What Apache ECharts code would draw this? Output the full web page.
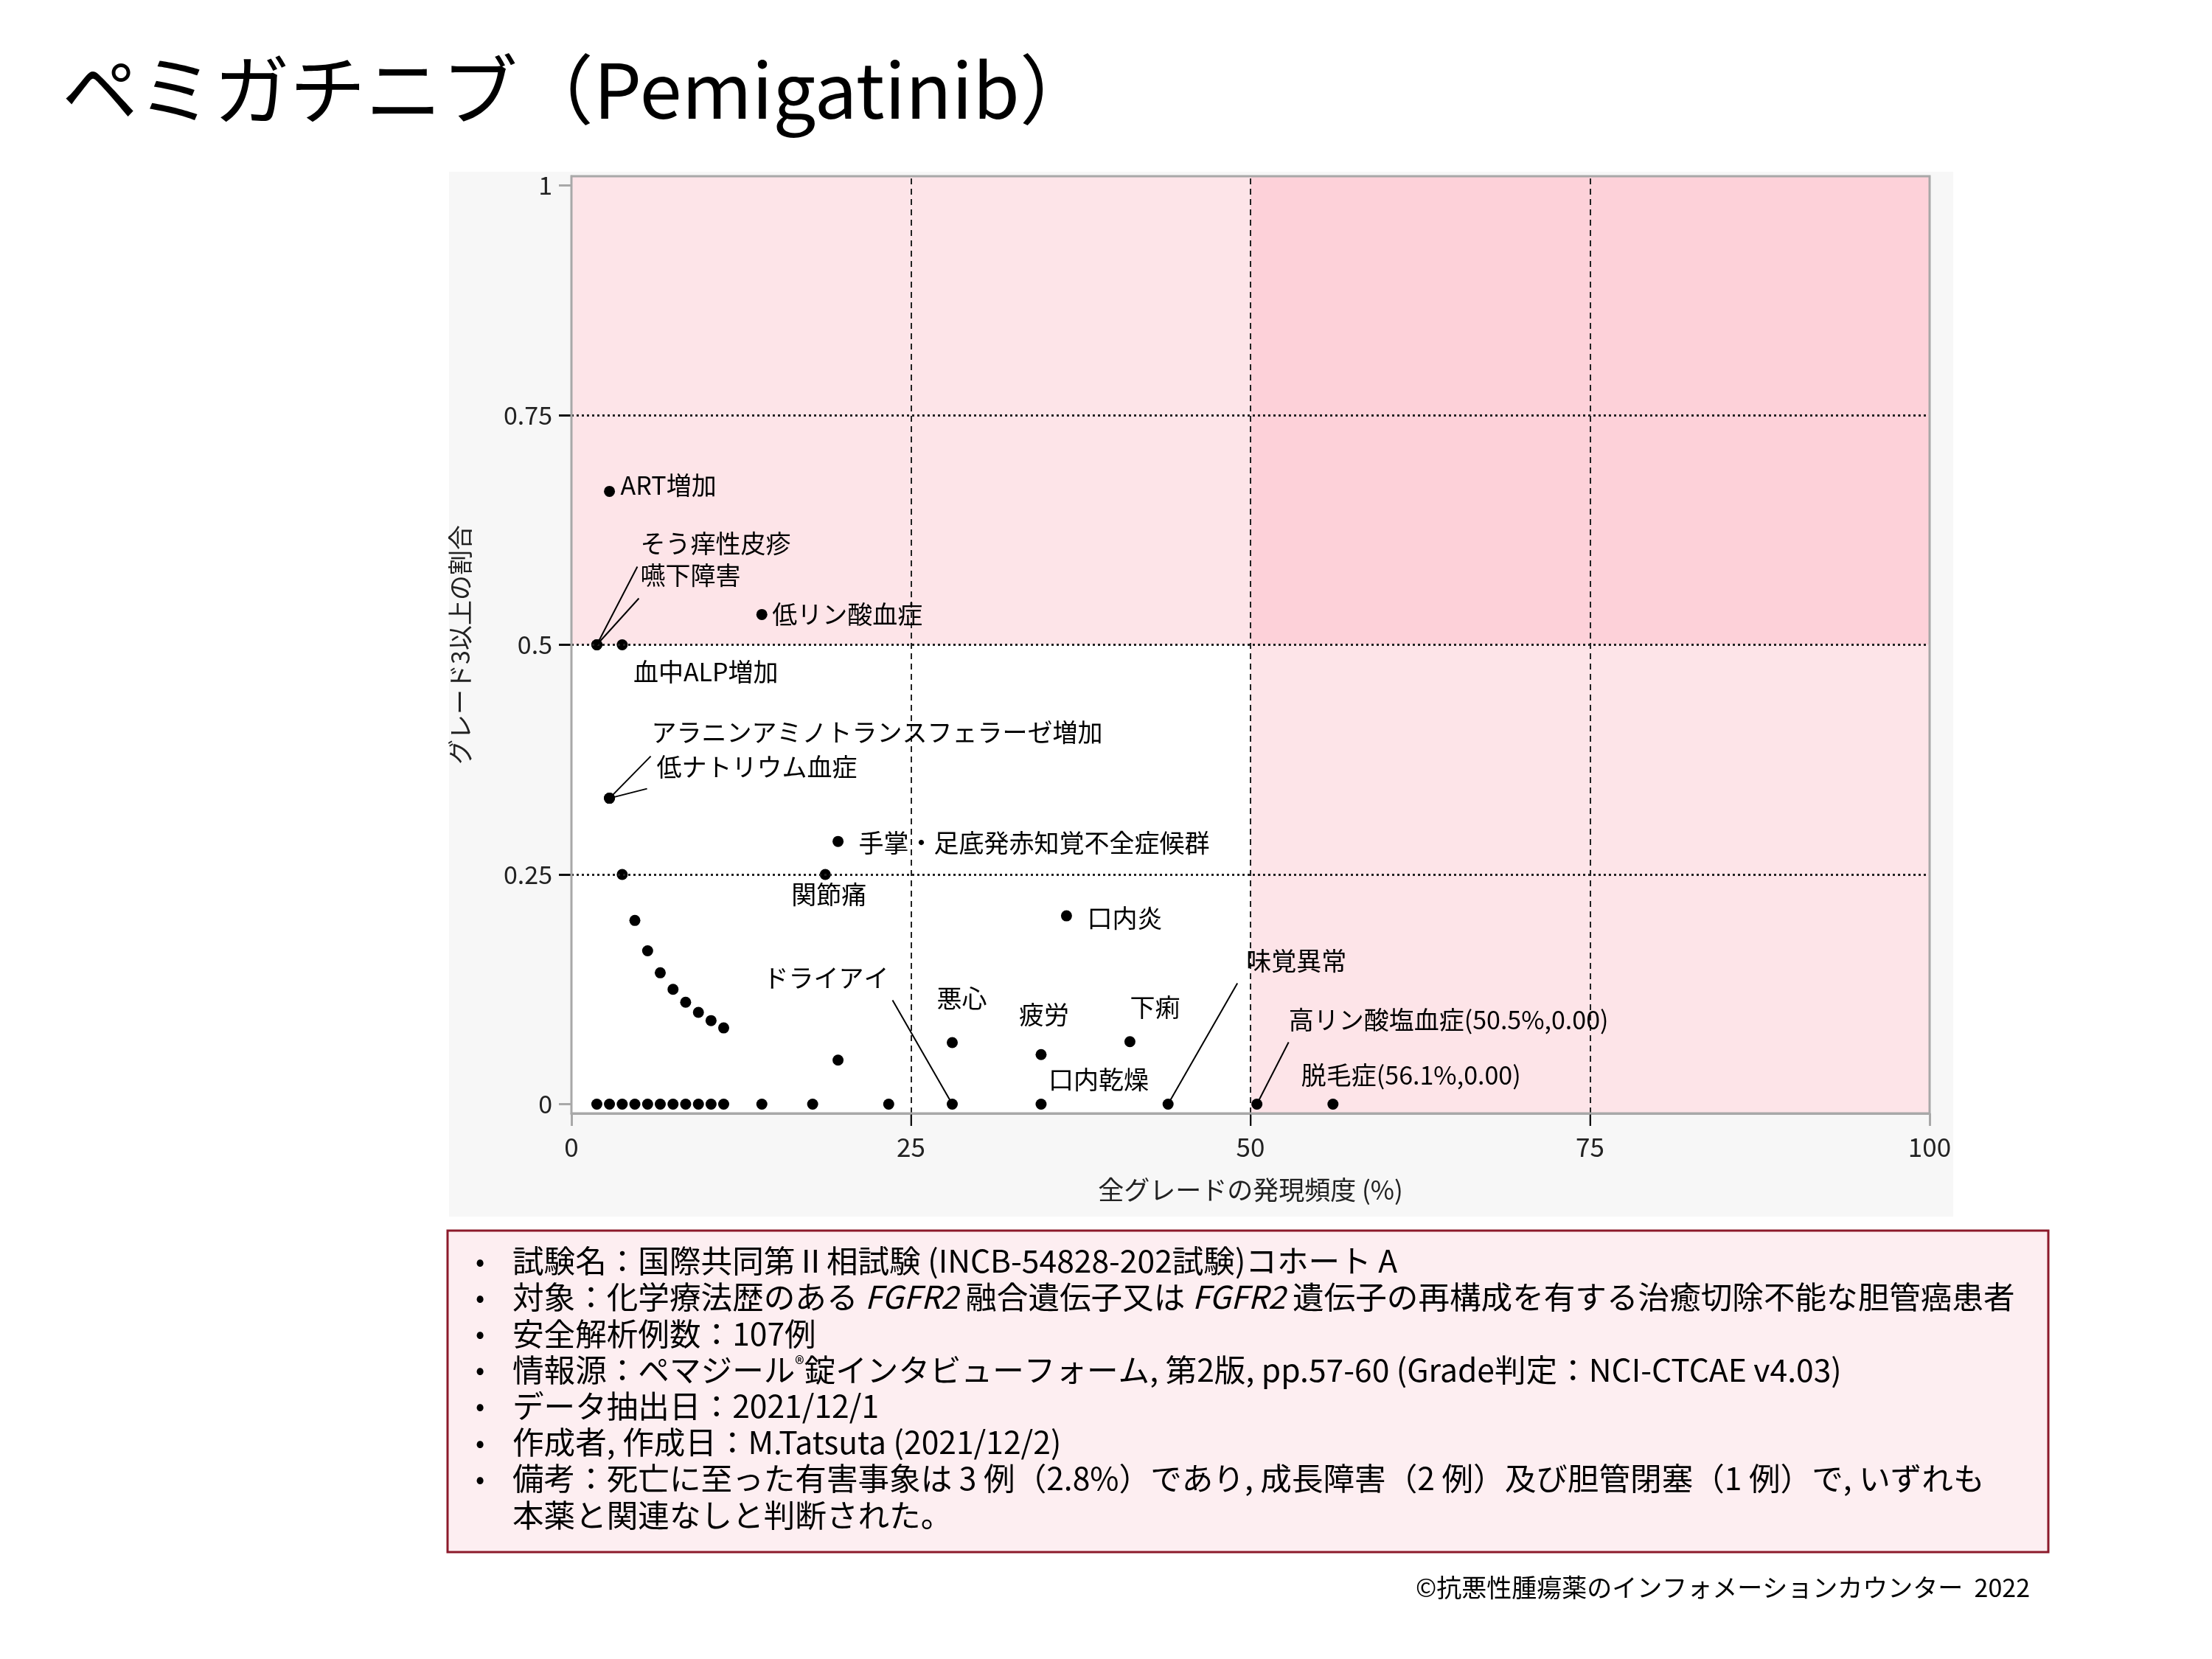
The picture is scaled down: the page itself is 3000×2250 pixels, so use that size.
<!DOCTYPE html>
<html>
<head>
<meta charset="utf-8">
<script src="https://cdn.jsdelivr.net/npm/echarts@6/dist/echarts.min.js"></script>
<style>
html,body{margin:0;padding:0;background:#fff;}
#chart{width:3000px;height:2250px;}
</style>
</head>
<body>
<div id="chart"></div>
<script>
// ---------------- data ----------------
const titleText = 'ペミガチニブ（Pemigatinib）';
const xAxisName = '全グレードの発現頻度 (%)';
const yAxisName = 'グレード3以上の割合';
const xTicks = [0, 25, 50, 75, 100];
const yTicks = [0, 0.25, 0.5, 0.75, 1];
const xRange = [0, 100];
const yRange = [-0.01, 1.01];
const refX = [25, 50, 75];
const refY = [0.25, 0.5, 0.75];
const quadX = 50;
const quadY = 0.5;

// labelled events: all-grade incidence (%), proportion of grade>=3
const labelNames = ['ART増加', 'そう痒性皮疹', '嚥下障害', '低リン酸血症', '血中ALP増加',
  'アラニンアミノトランスフェラーゼ増加', '低ナトリウム血症', '手掌・足底発赤知覚不全症候群',
  '関節痛', '口内炎', 'ドライアイ', '悪心', '疲労', '口内乾燥', '下痢', '味覚異常',
  '高リン酸塩血症(50.5%,0.00)', '脱毛症(56.1%,0.00)'];
const labelX = [2.80, 1.87, 1.87, 14.02, 3.74, 2.80, 2.80, 19.63, 18.69, 36.45, 28.04, 28.04,
  34.58, 34.58, 41.12, 43.93, 50.47, 56.07];
const labelY = [0.667, 0.5, 0.5, 0.533, 0.5, 0.333, 0.333, 0.286, 0.25, 0.205, 0, 0.067,
  0.054, 0, 0.068, 0, 0, 0];

// unlabelled events
const otherX = [3.74, 4.67, 5.61, 6.54, 7.48, 8.41, 9.35, 10.28, 11.21, 19.63,
  1.87, 2.80, 3.74, 4.67, 5.61, 6.54, 7.48, 8.41, 9.35, 10.28, 11.21, 14.02, 17.76, 23.36];
const otherY = [0.25, 0.2, 0.167, 0.143, 0.125, 0.111, 0.1, 0.091, 0.083, 0.048,
  0, 0, 0, 0, 0, 0, 0, 0, 0, 0, 0, 0, 0, 0];

const noteLines = [
  '試験名：国際共同第Ⅱ相試験 (INCB-54828-202試験)コホート A',
  '対象：化学療法歴のある {i|FGFR2} 融合遺伝子又は {i|FGFR2} 遺伝子の再構成を有する治癒切除不能な胆管癌患者',
  '安全解析例数：107例',
  '情報源：ペマジール{sup|®}錠インタビューフォーム, 第2版, pp.57-60 (Grade判定：NCI-CTCAE v4.03)',
  'データ抽出日：2021/12/1',
  '作成者, 作成日：M.Tatsuta (2021/12/2)',
  '備考：死亡に至った有害事象は 3 例（2.8%）であり, 成長障害（2 例）及び胆管閉塞（1 例）で, いずれも'
];
const noteCont = '本薬と関連なしと判断された。';
const copyright = '©抗悪性腫瘍薬のインフォメーションカウンター  2022';

// ---------------- layout (pixel offsets of labels from their point) ----------------
const labelLayout = {
  'ART増加': {dx: 15, dy: -8},
  'そう痒性皮疹': {dx: 59, dy: -137, line: [55, -106]},
  '嚥下障害': {dx: 59, dy: -94, line: [57, -63]},
  '低リン酸血症': {dx: 14, dy: 0},
  '血中ALP増加': {dx: 15, dy: 37},
  'アラニンアミノトランスフェラーゼ増加': {dx: 57, dy: -90, line: [56, -57]},
  '低ナトリウム血症': {dx: 64, dy: -43, line: [51, -13]},
  '手掌・足底発赤知覚不全症候群': {dx: 28, dy: 2},
  '関節痛': {dx: 5, dy: 27, align: 'center'},
  '口内炎': {dx: 28, dy: 3},
  'ドライアイ': {dx: -86, dy: -171, align: 'right', line: [-81, -141]},
  '悪心': {dx: 13, dy: -60, align: 'center'},
  '疲労': {dx: 4, dy: -54, align: 'center'},
  '口内乾燥': {dx: 10, dy: -33},
  '下痢': {dx: 34, dy: -47, align: 'center'},
  '味覚異常': {dx: 106, dy: -194, line: [94, -164]},
  '高リン酸塩血症(50.5%,0.00)': {dx: 43, dy: -114, line: [43, -84]},
  '脱毛症(56.1%,0.00)': {dx: -43, dy: -39}
};

const FONT = "'Noto Sans CJK JP', 'Noto Sans', sans-serif";
const chart = echarts.init(document.getElementById('chart'), null, {renderer: 'canvas', width: 3000, height: 2250});

const pointData = [];
labelX.forEach((x, i) => pointData.push([x, labelY[i]]));
otherX.forEach((x, i) => pointData.push([x, otherY[i]]));
const labelData = labelX.map((x, i) => [x, labelY[i], i]);

const pink = '#fde4e8', pinkDark = '#fdd1d9';

const graphics = [
  {type: 'rect', z: -10, shape: {x: 609, y: 233, width: 2040, height: 1417}, style: {fill: '#f7f7f7'}},
  {type: 'text', x: 84, y: 122, style: {text: titleText, fontSize: 103, fontFamily: FONT, fill: '#000', verticalAlign: 'middle'}},
  {type: 'rect', shape: {x: 607, y: 1669, width: 2171, height: 436}, style: {fill: '#fdeef1', stroke: '#8c1a2b', lineWidth: 3}},
  {type: 'text', right: 247, top: 2136, style: {text: copyright, fontSize: 34, fontFamily: FONT, fill: '#000'}}
];
const richStyles = {
  i: {fontStyle: 'italic', fontSize: 42.6, fontFamily: FONT, fill: '#000'},
  sup: {fontSize: 26, fontFamily: FONT, fill: '#000', verticalAlign: 'top'}
};
noteLines.forEach((t, i) => {
  const y = 1710 + i * 49.2;
  graphics.push({type: 'text', x: 645, y: y, style: {text: '•', fontSize: 36, fontFamily: FONT, fill: '#000', verticalAlign: 'middle'}});
  graphics.push({type: 'text', x: 695, y: y, style: {text: t, rich: richStyles, fontSize: 42.6, fontFamily: FONT, fill: '#000', verticalAlign: 'middle'}});
});
graphics.push({type: 'text', x: 695, y: 1710 + 7 * 49.2, style: {text: noteCont, fontSize: 42.6, fontFamily: FONT, fill: '#000', verticalAlign: 'middle'}});

const option = {
  backgroundColor: '#ffffff',
  animation: false,
  textStyle: {fontFamily: FONT},
  graphic: graphics,
  grid: {left: 775, top: 239, width: 1842, height: 1271, show: true, z: 10,
    backgroundColor: 'transparent', borderColor: '#a8a8a8', borderWidth: 3},
  xAxis: [{
    type: 'value', min: xRange[0], max: xRange[1], interval: 25,
    name: xAxisName, nameLocation: 'middle', nameGap: 86,
    nameTextStyle: {fontSize: 35, color: '#222', fontFamily: FONT},
    axisLine: {show: true, onZero: false, lineStyle: {color: '#a8a8a8', width: 3}},
    axisTick: {show: true, length: 17, lineStyle: {color: '#a8a8a8', width: 3}},
    axisLabel: {fontSize: 35, color: '#222', margin: 28, fontFamily: FONT},
    splitLine: {show: false}
  }, {
    type: 'value', min: xRange[0], max: xRange[1], position: 'bottom',
    axisLine: {show: false, onZero: false},
    axisTick: {show: true, length: 17, customValues: refX, lineStyle: {color: '#111', width: 2}},
    axisLabel: {show: false}, splitLine: {show: false}
  }],
  yAxis: [{
    type: 'value', min: yRange[0], max: yRange[1],
    name: yAxisName, nameLocation: 'middle', nameGap: 134,
    nameTextStyle: {fontSize: 34, color: '#222', fontFamily: FONT},
    axisLine: {show: true, onZero: false, lineStyle: {color: '#a8a8a8', width: 3}},
    axisTick: {show: true, length: 17, customValues: yTicks, lineStyle: {color: '#a8a8a8', width: 3}},
    axisLabel: {fontSize: 34, color: '#222', margin: 26, fontFamily: FONT, customValues: yTicks,
      formatter: v => String(v)},
    splitLine: {show: false}
  }, {
    type: 'value', min: yRange[0], max: yRange[1], position: 'left',
    axisLine: {show: false, onZero: false},
    axisTick: {show: true, length: 17, customValues: refY, lineStyle: {color: '#111', width: 3}},
    axisLabel: {show: false}, splitLine: {show: false}
  }],
  series: [{
    type: 'scatter', name: 'bg', z: 1, silent: true, data: [],
    markArea: {silent: true, data: [
      [{xAxis: xRange[0], yAxis: yRange[0], itemStyle: {color: '#ffffff'}}, {xAxis: quadX, yAxis: quadY}],
      [{xAxis: xRange[0], yAxis: quadY, itemStyle: {color: pink}}, {xAxis: quadX, yAxis: yRange[1]}],
      [{xAxis: quadX, yAxis: quadY, itemStyle: {color: pinkDark}}, {xAxis: xRange[1], yAxis: yRange[1]}],
      [{xAxis: quadX, yAxis: yRange[0], itemStyle: {color: pink}}, {xAxis: xRange[1], yAxis: quadY}]
    ]}
  }, {
    type: 'scatter', name: 'ref', z: 2, silent: true, data: [],
    markLine: {silent: true, symbol: ['none', 'none'], label: {show: false},
      data: refX.map(v => ({xAxis: v, lineStyle: {type: [8, 6], color: '#222', width: 2}}))
        .concat(refY.map(v => ({yAxis: v, lineStyle: {type: [3, 4], color: '#222', width: 3}})))
    }
  }, {
    type: 'scatter', name: 'points', z: 4, symbolSize: 15, silent: true,
    itemStyle: {color: '#000', opacity: 1},
    data: pointData
  }, {
    type: 'custom', name: 'labels', z: 5, silent: true, clip: false,
    encode: {x: 0, y: 1},
    data: labelData,
    renderItem: function (params, api) {
      const p = api.coord([api.value(0), api.value(1)]);
      const name = labelNames[api.value(2)];
      const L = labelLayout[name];
      const children = [{
        type: 'text', x: p[0] + L.dx, y: p[1] + L.dy,
        style: {text: name, fontSize: 34, fontFamily: FONT, fill: '#000',
          align: L.align || 'left', verticalAlign: 'middle'}
      }];
      if (L.line) {
        children.push({type: 'line', shape: {x1: p[0], y1: p[1], x2: p[0] + L.line[0], y2: p[1] + L.line[1]},
          style: {stroke: '#000', lineWidth: 2}});
      }
      return {type: 'group', children: children};
    }
  }]
};
chart.setOption(option);
</script>
</body>
</html>
